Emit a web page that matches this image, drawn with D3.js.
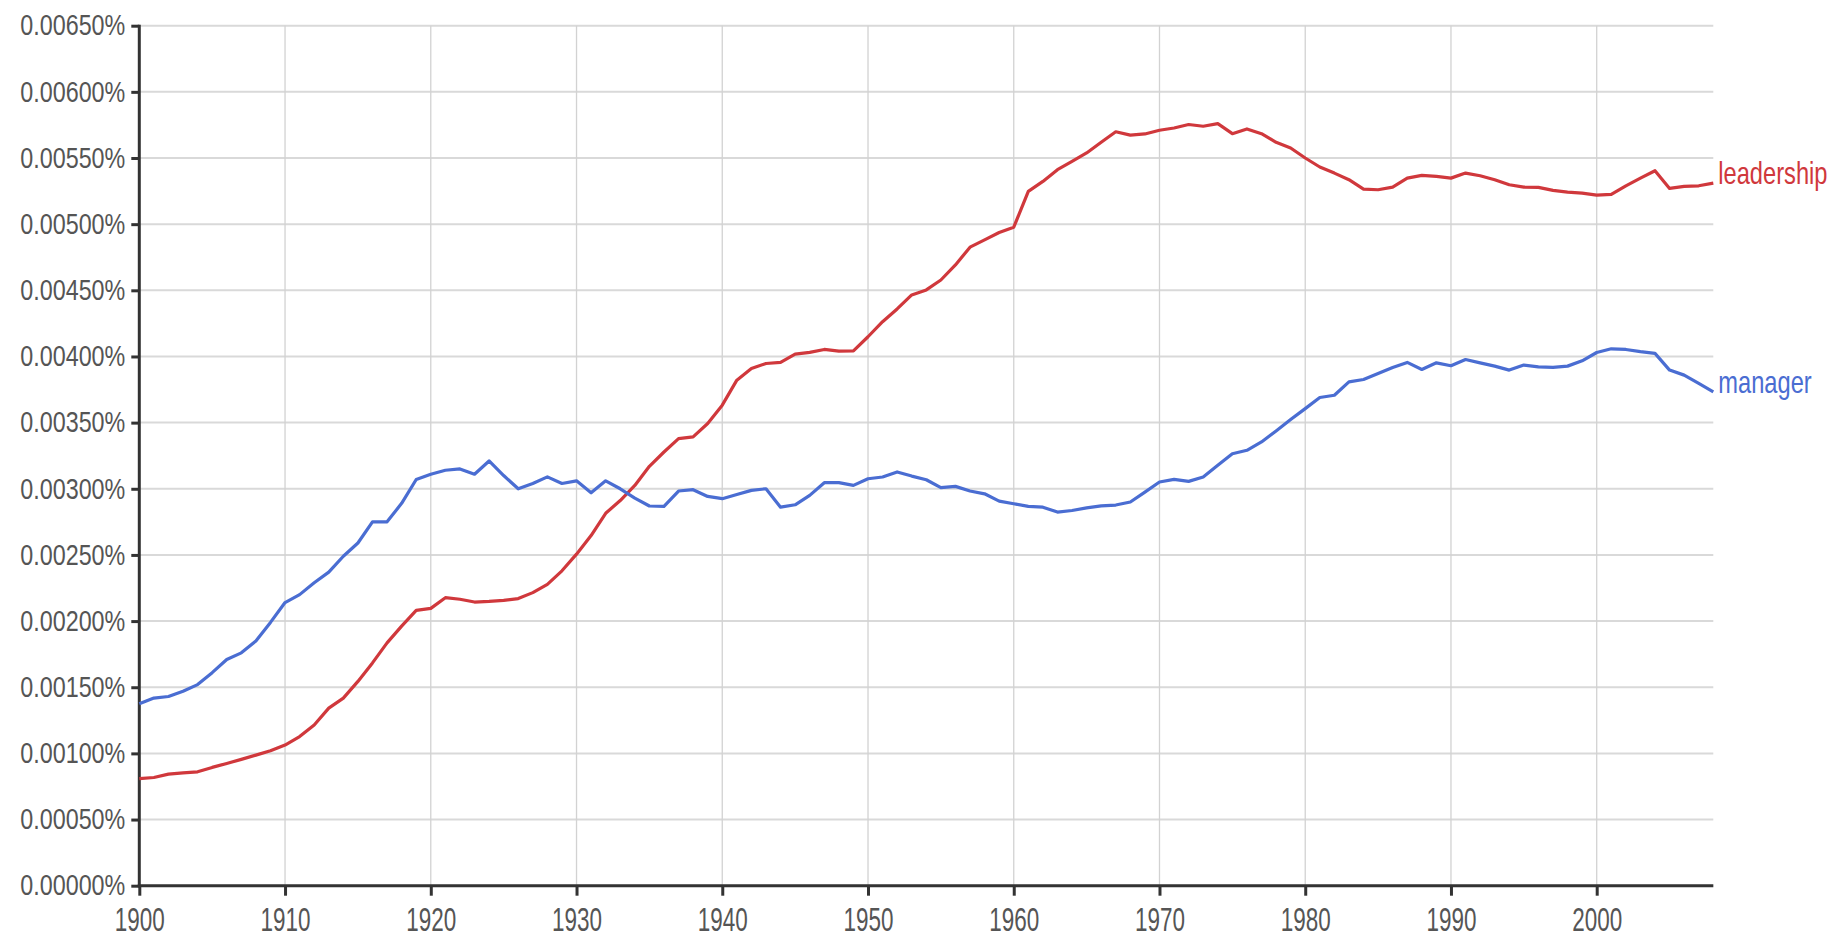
<!DOCTYPE html>
<html>
<head>
<meta charset="utf-8">
<script src="https://cdn.jsdelivr.net/npm/d3@7"></script>
<style>
  html, body { margin: 0; padding: 0; background: #fff; }
  svg { display: block; }
  .tick text { font-family: "Liberation Sans", Arial, sans-serif; fill: #555; }
</style>
</head>
<body>
<svg id="chart" width="1848" height="938"></svg>
<script>
// values are percentages, one per year from 1900 to 2008
const years = d3.range(1900, 2009);

const leadership = [
    0.00081, 0.000818, 0.000843, 0.000853, 0.000861, 0.000894, 0.000924, 0.000955, 0.000987, 0.00102,
    0.001063, 0.001127, 0.001215, 0.001342, 0.001418, 0.001544, 0.001684, 0.001835, 0.001962, 0.002081,
    0.002096, 0.002177, 0.002165, 0.002144, 0.002149, 0.002157, 0.00217, 0.002215, 0.002278, 0.00238,
    0.002506, 0.002646, 0.002815, 0.002911, 0.003025, 0.00317, 0.003278, 0.003379, 0.003392, 0.003493,
    0.003632, 0.003821, 0.003909, 0.003947, 0.003955, 0.004018, 0.004031, 0.004053, 0.004041, 0.004043,
    0.004149, 0.004263, 0.004359, 0.004465, 0.004503, 0.004578, 0.004692, 0.004826, 0.004881, 0.004937,
    0.004977, 0.005248, 0.005323, 0.005412, 0.005475, 0.005538, 0.005619, 0.005698, 0.005673, 0.005682,
    0.00571, 0.005727, 0.005753, 0.00574, 0.00576, 0.005684, 0.00572, 0.005684, 0.005619, 0.005576,
    0.0055, 0.005432, 0.005386, 0.005336, 0.005265, 0.00526, 0.00528, 0.005348, 0.005369, 0.005361,
    0.005348, 0.005386, 0.005366, 0.005336, 0.005298, 0.00528, 0.005278, 0.005255, 0.005242, 0.005235,
    0.00522, 0.005225, 0.00529, 0.005348, 0.005404, 0.00527, 0.005285, 0.00529, 0.00531
];

const manager = [
    0.001375, 0.001418, 0.00143, 0.00147, 0.00152, 0.00161, 0.00171, 0.00176, 0.00185, 0.00199,
    0.00214, 0.0022, 0.00229, 0.00237, 0.00249, 0.00259, 0.00275, 0.00275, 0.00289, 0.00307,
    0.00311, 0.00314, 0.00315, 0.00311, 0.00321, 0.0031, 0.003, 0.00304, 0.00309, 0.00304,
    0.00306, 0.00297, 0.00306, 0.003, 0.00293, 0.00287, 0.002867, 0.002983, 0.002993, 0.002942,
    0.002925, 0.002957, 0.002988, 0.003, 0.002861, 0.002879, 0.00295, 0.003046, 0.003046, 0.003026,
    0.003076, 0.003089, 0.003127, 0.003096, 0.003068, 0.003008, 0.003018, 0.002983, 0.002962, 0.002907,
    0.002887, 0.002867, 0.002861, 0.002824, 0.002836, 0.002856, 0.002871, 0.002877, 0.0029, 0.002975,
    0.003051, 0.003071, 0.003056, 0.003089, 0.003177, 0.003265, 0.003291, 0.003354, 0.003437, 0.003523,
    0.003606, 0.00369, 0.003707, 0.003808, 0.003826, 0.003871, 0.003917, 0.003955, 0.003902, 0.003952,
    0.00393, 0.003977, 0.003952, 0.003927, 0.003897, 0.003935, 0.003922, 0.003917, 0.003927, 0.003967,
    0.00403, 0.004058, 0.004053, 0.004036, 0.004023, 0.003897, 0.003859, 0.003796, 0.003733
];

const seriesNames = ["leadership", "manager"];
const seriesColors = ["#d0383c", "#4a6dd2"];
const yTicks = d3.range(0, 14).map((i) => i * 0.0005);
const xTicks = d3.range(1900, 2001, 10);

const svg = d3.select("#chart");

const x = d3.scaleLinear()
    .domain([1900, 2008])
    .range([139.3, 1713.3]);

const y = d3.scaleLinear()
    .domain([0, 0.0065])
    .range([885.7, 25.7]);

// grid
svg.append("g")
    .selectAll("line")
    .data(yTicks)
    .join("line")
    .attr("x1", x(1900))
    .attr("x2", x(2008))
    .attr("y1", (d) => y(d))
    .attr("y2", (d) => y(d))
    .attr("stroke", "#d9d9d9")
    .attr("stroke-width", 2);

svg.append("g")
    .selectAll("line")
    .data(xTicks.slice(1))
    .join("line")
    .attr("x1", (d) => x(d))
    .attr("x2", (d) => x(d))
    .attr("y1", y(0.0065))
    .attr("y2", y(0))
    .attr("stroke", "#d2d2d2")
    .attr("stroke-width", 1.3);

// axes
const yAxis = svg.append("g")
    .attr("transform", `translate(${x(1900)},0)`)
    .call(d3.axisLeft(y)
        .tickValues(yTicks)
        .tickSize(8)
        .tickPadding(6)
        .tickFormat((d) => d3.format(".5f")(d) + "%"));

yAxis.selectAll("text")
    .attr("font-size", 29)
    .attr("textLength", 105)
    .attr("lengthAdjust", "spacingAndGlyphs");

const xAxis = svg.append("g")
    .attr("transform", `translate(0,${y(0)})`)
    .call(d3.axisBottom(x)
        .tickValues(xTicks)
        .tickSize(10)
        .tickPadding(12)
        .tickFormat(d3.format("d")));

xAxis.selectAll("text")
    .attr("font-size", 33)
    .attr("textLength", 50)
    .attr("lengthAdjust", "spacingAndGlyphs");

[yAxis, xAxis].forEach((a) => {
    a.select(".domain").remove();
    a.selectAll(".tick line").attr("stroke", "#333").attr("stroke-width", 3);
});

svg.append("line")
    .attr("x1", x(1900)).attr("x2", x(1900))
    .attr("y1", y(0.0065) - 1).attr("y2", y(0) + 1.5)
    .attr("stroke", "#333").attr("stroke-width", 3);

svg.append("line")
    .attr("x1", x(1900) - 1.5).attr("x2", x(2008))
    .attr("y1", y(0)).attr("y2", y(0))
    .attr("stroke", "#333").attr("stroke-width", 3);

// lines
const line = d3.line()
    .x((d, i) => x(years[i]))
    .y((d) => y(d));

const series = [leadership, manager];

series.forEach((values, k) => {
    svg.append("path")
        .datum(values)
        .attr("d", line)
        .attr("fill", "none")
        .attr("stroke", seriesColors[k])
        .attr("stroke-width", 3.2)
        .attr("stroke-linejoin", "round");

    // narrow label, squeezed horizontally like the original
    svg.append("g")
        .attr("transform", `translate(${x(2008) + 5},${y(values[values.length - 1]) + 1}) scale(0.74,1)`)
        .append("text")
        .attr("font-family", "\"Liberation Sans\", Arial, sans-serif")
        .attr("font-size", 32)
        .attr("fill", seriesColors[k])
        .text(seriesNames[k]);
});
</script>
</body>
</html>
